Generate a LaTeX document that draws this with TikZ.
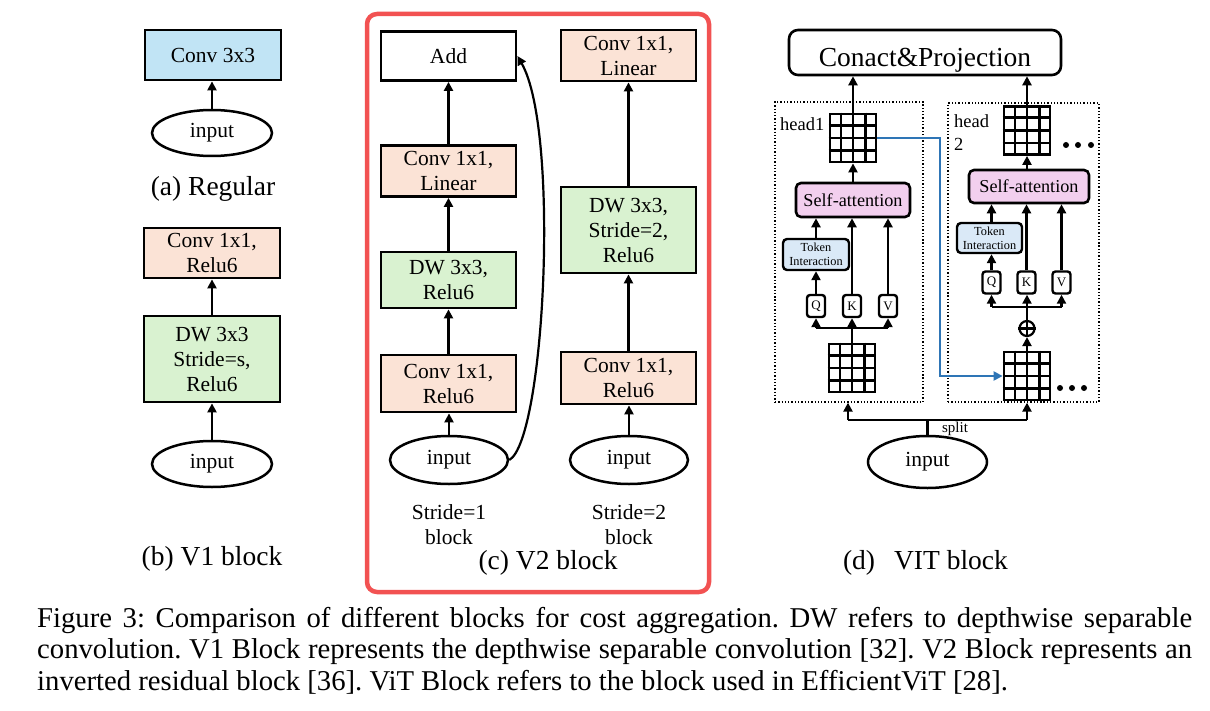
\documentclass[tikz,border=0pt]{standalone}
\usepackage{fontspec}
\setmainfont{Liberation Serif}
\usetikzlibrary{shapes.geometric,arrows.meta,calc}
\definecolor{bluec}{RGB}{193,228,245}
\definecolor{peachc}{RGB}{251,227,214}
\definecolor{greenc}{RGB}{217,242,208}
\definecolor{pinkc}{RGB}{242,207,238}
\definecolor{tokc}{RGB}{218,233,247}
\definecolor{redc}{RGB}{242,82,82}
\definecolor{bluel}{RGB}{46,117,182}
\newcommand\boxfnt{\fontsize{21.5bp}{25bp}\selectfont}
\newcommand\capfnt{\fontsize{27.5bp}{32bp}\selectfont}
\newcommand\bigfnt{\fontsize{27.5bp}{32bp}\selectfont}
\newcommand\safnt{\fontsize{18.2bp}{22bp}\selectfont}
\newcommand\tifnt{\fontsize{12.3bp}{14bp}\selectfont}
\newcommand\qfnt{\fontsize{13bp}{15bp}\selectfont}
\newcommand\headfnt{\fontsize{18.5bp}{23bp}\selectfont}
\newcommand\splitfnt{\fontsize{15bp}{17bp}\selectfont}
\newcommand\figfnt{\fontsize{28.7bp}{31.6bp}\selectfont\frenchspacing}
\newcommand\gridnode[3]{%
  \node[gridbox] (#1) at (#2,#3) {};
  \foreach \f in {0.25,0.5,0.75} {
    \draw[gridline] ($(#1.north west)!\f!(#1.north east)$) -- ($(#1.south west)!\f!(#1.south east)$);
    \draw[gridline] ($(#1.north west)!\f!(#1.south west)$) -- ($(#1.north east)!\f!(#1.south east)$);
  }}
\tikzset{
  blk/.style={draw, line width=2.8bp, inner sep=0pt, align=center, font=\boxfnt, minimum width=136bp},
  ell/.style={draw, ellipse, line width=2.5bp, inner sep=0pt, font=\boxfnt, minimum width=120bp, minimum height=46bp},
  arr/.style={line width=2.2bp, -{Triangle[length=9bp,width=9bp]}},
  ln/.style={line width=2.2bp},
  gridbox/.style={draw, line width=2.8bp, minimum width=46bp, minimum height=48bp, inner sep=0pt},
  gridline/.style={line width=2.6bp},
  dotbox/.style={draw, dotted, line width=1.3bp, inner sep=0pt},
  sabox/.style={draw, rounded corners=5bp, fill=pinkc, line width=2.6bp, font=\safnt, inner sep=0pt},
  tibox/.style={draw, rounded corners=4bp, fill=tokc, line width=2.4bp, font=\tifnt, align=center, inner sep=0pt},
  qkv/.style={draw, rounded corners=3bp, line width=2.4bp, font=\qfnt, minimum width=18bp, minimum height=22bp, inner sep=0pt},
  lbl/.style={font=\capfnt, inner sep=0pt},
  sub/.style={font=\boxfnt, inner sep=0pt, align=center},
  figl/.style={font=\figfnt, inner sep=0pt, anchor=base west},
}
\begin{document}
\begin{tikzpicture}[x=1bp,y=-1bp]
\useasboundingbox (0,0) rectangle (1210,711);
% (a)
\node[blk, fill=bluec, minimum height=50bp] (a1) at (213,55) {Conv 3x3};
\node[ell] (ain) at (212,133) {input};
\draw[arr] (ain.north) -- (ain.north |- a1.south);
\node[lbl] (acap) at (213,189) {(a) Regular};
% (b)
\node[blk, fill=peachc, minimum height=50bp] (b2) at (212,253) {Conv 1x1,\\Relu6};
\node[blk, fill=greenc, minimum height=86bp] (b1) at (212,359) {DW 3x3\\Stride=s,\\Relu6};
\node[ell] (bin) at (212,464) {input};
\draw[arr] (bin.north) -- (b1.south);
\draw[arr] (b1.north) -- (b2.south);
\node[lbl] (bcap) at (212,559) {(b) V1 block};
% (c)
\draw[line width=4.5bp, draw=redc, rounded corners=10bp] (367,14) rectangle (709,592);
\node[blk, fill=white, minimum width=135bp, minimum height=49bp] (cadd) at (448.5,56) {Add};
\node[blk, fill=peachc, minimum width=135bp, minimum height=51bp] (clin) at (448.5,171) {Conv 1x1,\\Linear};
\node[blk, fill=greenc, minimum width=135bp, minimum height=56bp] (cdw) at (448.5,280) {DW 3x3,\\Relu6};
\node[blk, fill=peachc, minimum width=135bp, minimum height=57bp] (crel) at (448.5,383.5) {Conv 1x1,\\Relu6};
\node[ell, minimum width=118bp, minimum height=48bp] (cin) at (449,460) {input};
\node[sub] (cs1) at (449,524.5) {Stride=1\\block};
\draw[arr] (cin.north) -- (cin.north |- crel.south);
\draw[arr] (crel.north) -- (cdw.south);
\draw[arr] (cdw.north) -- (clin.south);
\draw[arr] (clin.north) -- (cadd.south);
\draw[arr] (cin.east) .. controls (545,440) and (560,130) .. (cadd.east);
\node[blk, fill=peachc, minimum width=135bp, minimum height=51bp] (rlin) at (628.5,55.5) {Conv 1x1,\\Linear};
\node[blk, fill=greenc, minimum width=135bp, minimum height=86bp] (rdw) at (628.5,230) {DW 3x3,\\Stride=2,\\Relu6};
\node[blk, fill=peachc, minimum width=135bp, minimum height=52bp] (rrel) at (628.5,378) {Conv 1x1,\\Relu6};
\node[ell, minimum width=118bp, minimum height=48bp] (rin) at (629,460) {input};
\node[sub] (cs2) at (629,524.5) {Stride=2\\block};
\draw[arr] (rin.north) -- (rin.north |- rrel.south);
\draw[arr] (rrel.north) -- (rdw.south);
\draw[arr] (rdw.north) -- (rlin.south);
\node[lbl] (ccap) at (548,563) {(c) V2 block};
% (d)
\node[draw, rounded corners=9bp, line width=2.6bp, minimum width=272bp, text height=37bp, text depth=8bp, inner sep=0pt, font=\bigfnt] (proj) at (925,52.5) {Conact\&Projection};
\node[dotbox, minimum width=148bp, minimum height=300bp] (h1box) at (849,252) {};
\node[dotbox, minimum width=151bp, minimum height=299bp] (h2box) at (1023.5,252.5) {};
\gridnode{g1}{853}{138}
\gridnode{g2}{1027}{130.5}
\gridnode{g3}{852}{368}
\gridnode{g4}{1027}{376}
\node[font=\headfnt, inner sep=0pt, anchor=base west] (h1lbl) at (780,131) {head1};
\node[font=\headfnt, inner sep=0pt, anchor=north west, align=left] (h2lbl) at (954,114.5) {head\\2};
\node[sabox, minimum width=114bp, minimum height=34bp] (sa1) at (853,200) {Self-attention};
\node[sabox, minimum width=120bp, minimum height=33bp] (sa2) at (1029,186.5) {Self-attention};
\node[tibox, minimum width=66bp, minimum height=31bp] (ti1) at (816,254.5) {Token\\Interaction};
\node[tibox, minimum width=65bp, minimum height=30bp] (ti2) at (989.5,238) {Token\\Interaction};
\node[qkv] (q1) at (816,306) {Q};
\node[qkv] (k1) at (852,306) {K};
\node[qkv] (v1) at (888,306) {V};
\node[qkv] (q2) at (991.5,282.5) {Q};
\node[qkv] (k2) at (1026.5,282.5) {K};
\node[qkv] (v2) at (1061.5,282.5) {V};
\node[circle, draw, line width=2.2bp, minimum size=15bp, inner sep=0pt] (op) at (1027,328.5) {};
\draw[line width=2.2bp] (op.north) -- (op.south) (op.west) -- (op.east);
% arrows left head
\draw[arr] (g1.north) -- (g1.north |- proj.south);
\draw[arr] (g2.north) -- (g2.north |- proj.south);
\draw[arr] (sa1.north) -- (sa1.north |- g1.south);
\draw[arr] (g2.south |- sa2.north) -- (g2.south);
\draw[arr] (ti1.north) -- (ti1.north |- sa1.south);
\draw[arr] (k1.north) -- (k1.north |- sa1.south);
\draw[arr] (v1.north) -- (v1.north |- sa1.south);
\draw[arr] (q1.north) -- (q1.north |- ti1.south);
\coordinate (j1) at (852,328);
\draw[arr] (g3.north) -- (g3.north |- k1.south);
\draw[ln] (q1 |- j1) -- (v1 |- j1);
\draw[arr] (q1 |- j1) -- (q1.south);
\draw[arr] (v1 |- j1) -- (v1.south);
% arrows right head
\coordinate (j2) at (1027,307);
\draw[arr] (g4.north) -- (op.south);
\draw[arr] (op.north) -- (op.north |- k2.south);
\draw[ln] (q2 |- j2) -- (v2 |- j2);
\draw[arr] (q2 |- j2) -- (q2.south);
\draw[arr] (v2 |- j2) -- (v2.south);
\draw[arr] (q2.north) -- (q2.north |- ti2.south);
\draw[arr] (q2 |- ti2.north) -- (q2 |- sa2.south);
\draw[arr] (k2.north) -- (k2.north |- sa2.south);
\draw[arr] (v2.north) -- (v2.north |- sa2.south);
% blue link
\coordinate (bt) at (940,138);
\draw[arr, color=bluel] (g1.east) -- (bt) -- (bt |- g4.west) -- (g4.west);
% dots
\fill (1066,145) circle (3bp) (1078,145) circle (3bp) (1091,145) circle (3bp);
\fill (1060,388) circle (3bp) (1072,388) circle (3bp) (1084,388) circle (3bp);
% split
\node[ell, minimum width=119bp, minimum height=52bp] (din) at (927.5,462) {input};
\coordinate (sl) at (848,420);
\coordinate (sr) at (1027,420);
\draw[ln] (din.north) -- (din.north |- sl);
\draw[ln] (sl) -- (sr);
\draw[arr] (sl) -- (sl |- h1box.south);
\draw[arr] (sr) -- (sr |- h2box.south);
\node[font=\splitfnt, inner sep=0pt, anchor=base] (splbl) at (955,432) {split};
\node[lbl] (dcap) at (925.5,563) {(d)\hspace{19bp}VIT block};
% caption
\node[figl] (fc1) at (37,627) {\makebox[1155bp][s]{Figure 3: Comparison of different blocks for cost aggregation. DW refers to depthwise separable}};
\node[figl] (fc2) at (37,658.6) {\makebox[1155bp][s]{convolution. V1 Block represents the depthwise separable convolution [32]. V2 Block represents an}};
\node[figl] (fc3) at (37,690.2) {inverted residual block [36]. ViT Block refers to the block used in EfficientViT [28].};
\end{tikzpicture}
\end{document}
